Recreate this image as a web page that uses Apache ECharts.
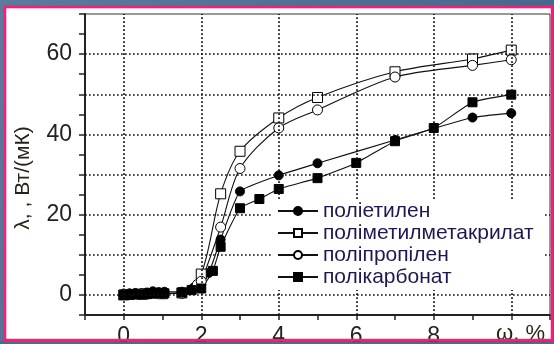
<!DOCTYPE html>
<html><head><meta charset="utf-8">
<script src="https://cdn.jsdelivr.net/npm/echarts@6/dist/echarts.min.js"></script>
<style>html,body{margin:0;padding:0;background:#4c6d90}#c{width:554px;height:344px}</style>
</head><body><div id="c"></div>
<script>
const seriesNames = ['поліетилен', 'поліметилметакрилат', 'поліпропілен', 'полікарбонат'];
const polyethylene = [[0,0.3],[0.15,0.4],[0.3,0.5],[0.45,0.4],[0.6,0.6],[0.75,0.9],[0.9,0.7],[1.05,0.8],[1.5,0.8],[1.8,1.8],[2,2.6],[2.2,5.5],[2.5,13.8],[3,25.8],[4,29.8],[5,32.8],[7,38.6],[9,44.2],[10,45.3]];
const pmma = [[0,0],[0.5,0.2],[1,0.3],[1.5,0.5],[2,5.2],[2.5,25.2],[3,35.8],[4,44.1],[5,49.2],[7,55.6],[9,58.8],[10,61]];
const polypropylene = [[0,0.2],[0.5,0.3],[1,0.4],[1.5,0.4],[1.9,2.6],[2,3.4],[2.5,16.9],[3,31.5],[4,41.6],[5,46.1],[7,54.3],[9,57.2],[10,58.6]];
const polycarbonate = [[0,0],[0.15,0],[0.3,0.1],[0.45,0.1],[0.6,0.2],[0.75,0.3],[0.9,0.5],[1.05,0.4],[1.5,0.6],[1.75,1.2],[2,1.6],[2.3,6],[2.5,12],[3,21.6],[3.5,23.9],[4,26.4],[5,29.1],[6,32.9],[7,38.3],[8,41.6],[9,48],[10,49.9]];
const xGridLines = [0, 2, 4, 6, 8, 10];
const yGridLines = [0, 10, 20, 30, 40, 50, 60];
const xLabelValues = [0, 2, 4, 6, 8];
const yLabelValues = [0, 20, 40, 60];
const xName = 'ω, %';
const yName = 'λ, , Вт/(мК)';

const FONT = "'Liberation Sans', Arial, sans-serif";
const chart = echarts.init(document.getElementById('c'), null, {renderer: 'canvas'});

const gridLineStyle = {color: '#111', width: 1.7, type: [1.7, 2.3], opacity: 1};
const markData = yGridLines.map(v => ({yAxis: v})).concat(xGridLines.map(v => ({xAxis: v})));

function lineSeries(name, data, symbol, size, filled, smooth) {
  return {
    name: name, type: 'line', data: data, z: 3,
    symbol: symbol, symbolSize: size, showSymbol: true,
    smooth: smooth,
    lineStyle: {color: '#111', width: 1.1},
    itemStyle: {color: filled ? '#000' : '#fff', borderColor: '#000', borderWidth: 1},
    emphasis: {disabled: true}
  };
}

chart.setOption({
  animation: false,
  backgroundColor: 'transparent',
  graphic: [
    {type: 'rect', z: -200, shape: {x: 0, y: 0, width: 554, height: 344},
     style: {fill: new echarts.graphic.LinearGradient(0, 0, 1, 1, [{offset: 0, color: '#5a7b9c'}, {offset: 1, color: '#3f6186'}])}},
    {type: 'rect', z: -100, shape: {x: 5, y: 7, width: 547, height: 333}, style: {fill: '#ffffff'}},
    {type: 'text', z: 50, x: 23, y: 178, rotation: Math.PI / 2,
     style: {text: yName, font: '21px ' + FONT, fill: '#2a2218', textAlign: 'center', textVerticalAlign: 'middle'}},
    {type: 'text', z: 50, x: 496, y: 334,
     style: {text: xName, font: '22px ' + FONT, fill: '#2a2218', textAlign: 'left', textVerticalAlign: 'middle'}},
    {type: 'rect', z: 100, shape: {x: 0, y: 341.5, width: 554, height: 3}, style: {fill: '#4a6a8e'}},
    {type: 'rect', z: 101, shape: {x: 5, y: 7, width: 547, height: 333}, style: {fill: 'none', stroke: '#ff1a75', lineWidth: 2.5}}
  ],
  grid: {left: 85, right: 4, top: 14, bottom: 29, containLabel: false, outerBoundsMode: 'none',
    show: true, borderColor: '#333', borderWidth: 1, backgroundColor: 'transparent'},
  legend: {
    orient: 'vertical', left: 273, top: 199, padding: [1, 10, 2, 4], itemGap: 0,
    backgroundColor: '#ffffff', z: 10,
    itemWidth: 40, itemHeight: 10,
    textStyle: {fontSize: 21, lineHeight: 22, color: '#1e1850', fontFamily: FONT},
    data: seriesNames
  },
  xAxis: {
    type: 'value', min: -1, max: 11, interval: 1,
    axisLine: {onZero: false, lineStyle: {color: '#222', width: 2}},
    axisTick: {length: 5, lineStyle: {color: '#222', width: 1.5}},
    axisLabel: {margin: 10, fontSize: 23, color: '#222', fontFamily: FONT,
      formatter: v => xLabelValues.includes(v) ? String(v) : ''},
    splitLine: {show: false}
  },
  yAxis: {
    type: 'value', min: -5, max: 70, interval: 5,
    axisLine: {onZero: false, lineStyle: {color: '#222', width: 2}},
    axisTick: {length: 6, lineStyle: {color: '#222', width: 1.5}},
    axisLabel: {margin: 13, fontSize: 23, color: '#222', fontFamily: FONT,
      formatter: v => yLabelValues.includes(v) ? String(v) : ''},
    splitLine: {show: false}
  },
  series: [
    {type: 'line', name: '_grid', data: [], z: 0, silent: true,
     markLine: {silent: true, symbol: 'none', label: {show: false}, lineStyle: gridLineStyle,
       emphasis: {disabled: true}, animation: false, data: markData}},
    lineSeries(seriesNames[0], polyethylene, 'circle', 9, true, 0.15),
    lineSeries(seriesNames[1], pmma, 'rect', 10, false, 0.3),
    lineSeries(seriesNames[2], polypropylene, 'circle', 10, false, 0.3),
    lineSeries(seriesNames[3], polycarbonate, 'rect', 9, true, 0.15)
  ]
});
</script></body></html>
